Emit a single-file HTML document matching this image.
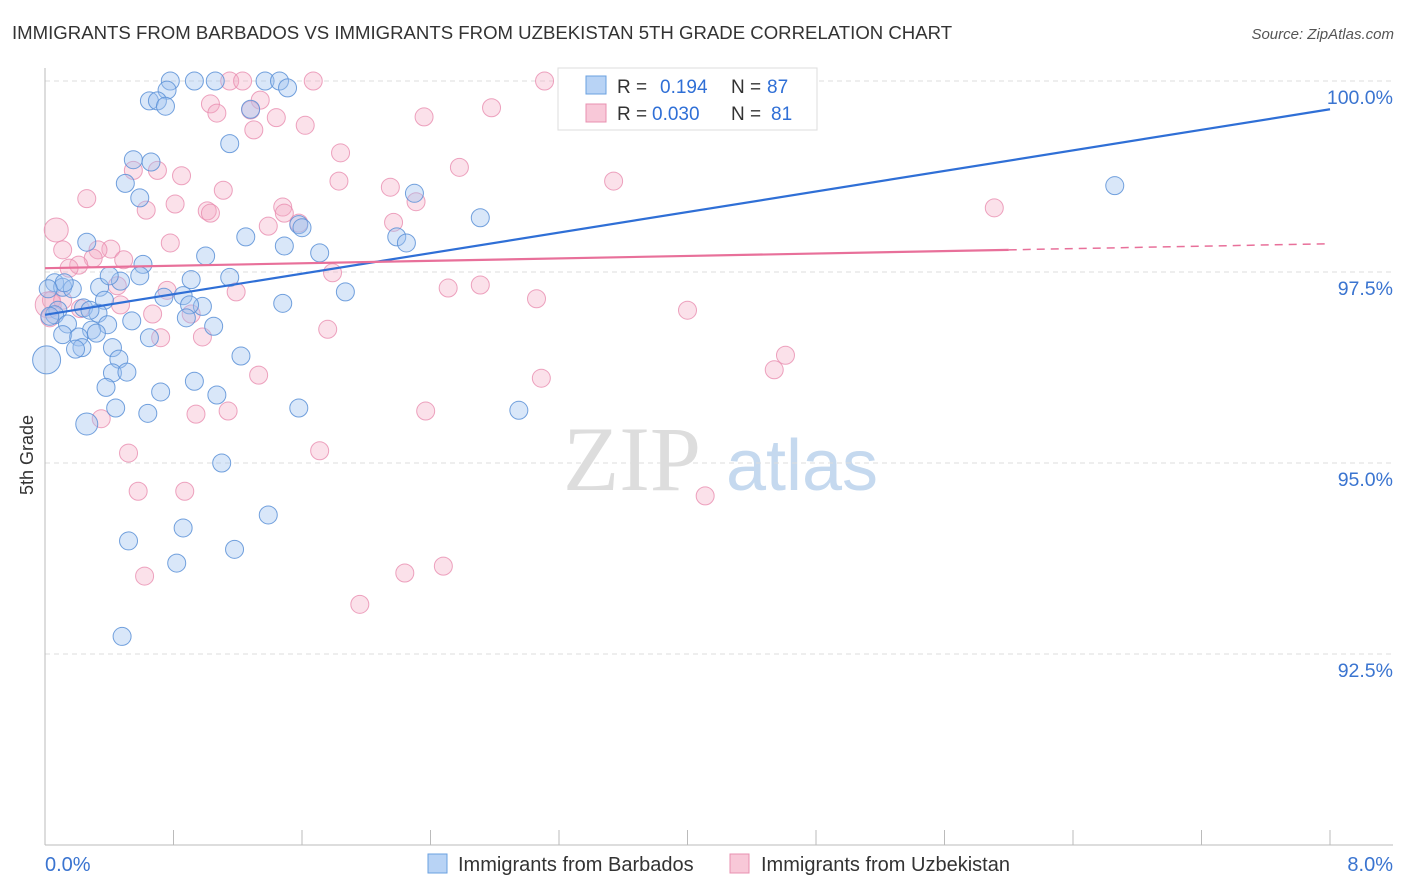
<!DOCTYPE html>
<html><head><meta charset="utf-8">
<style>
body{margin:0;background:#fff;font-family:"Liberation Sans",sans-serif;}
svg{display:block}
</style></head>
<body>
<svg id="chart" width="1406" height="892" xmlns="http://www.w3.org/2000/svg">
<text x="12" y="39" font-size="18.6" fill="#333">IMMIGRANTS FROM BARBADOS VS IMMIGRANTS FROM UZBEKISTAN 5TH GRADE CORRELATION CHART</text>
<text x="1394" y="39" font-size="15" fill="#555" font-style="italic" text-anchor="end">Source: ZipAtlas.com</text>
<text x="33" y="455" font-size="18" fill="#333" text-anchor="middle" transform="rotate(-90 33 455)">5th Grade</text>
<g>
<text x="632" y="490" font-size="92" fill="#ddd" font-family="Liberation Serif,serif" text-anchor="middle">ZIP</text>
<text x="802" y="490" font-size="72" fill="#c5d9ef" text-anchor="middle">atlas</text>
</g>
<g id="grid"></g>
<g id="axes"></g>
<g id="pinkPts"></g>
<g id="bluePts"></g>
<g id="trends"></g>
<g>
<rect x="558" y="68" width="259" height="62" fill="#fff" stroke="#ddd"/>
<rect x="586" y="76" width="20" height="18" fill="#b8d3f5" stroke="#6aa0e0"/>
<text x="617" y="93" font-size="19" fill="#333">R =</text><text x="660" y="93" font-size="19" fill="#2f6fd6">0.194</text>
<text x="731" y="93" font-size="19" fill="#333">N =</text><text x="767" y="93" font-size="19" fill="#2f6fd6">87</text>
<rect x="586" y="104" width="20" height="18" fill="#f8c8d8" stroke="#e890b0"/>
<text x="617" y="120" font-size="19" fill="#333">R =</text><text x="652" y="120" font-size="19" fill="#2f6fd6">0.030</text>
<text x="731" y="120" font-size="19" fill="#333">N =</text><text x="771" y="120" font-size="19" fill="#2f6fd6">81</text>
</g>
<g>
<rect x="428" y="854" width="19" height="19" fill="#b8d3f5" stroke="#6aa0e0"/>
<text x="458" y="871" font-size="20" fill="#333">Immigrants from Barbados</text>
<rect x="730" y="854" width="19" height="19" fill="#f8c8d8" stroke="#e890b0"/>
<text x="761" y="871" font-size="20" fill="#333">Immigrants from Uzbekistan</text>
</g>
</svg>
<script>
const yTicks=[100,97.5,95,92.5];
const yTickLabels=["100.0%","97.5%","95.0%","92.5%"];
const xTicks=[0,0.8,1.6,2.4,3.2,4.0,4.8,5.6,6.4,7.2,8.0];
const xEndLabels=["0.0%","8.0%"];
const blueX=[0.78,0.93,1.06,1.37,1.46,1.51,0.76,0.65,0.70,0.75,1.28,1.15,0.55,0.66,0.50,0.59,2.30,2.71,1.58,1.60,1.25,2.19,2.25,1.49,1.71,1.00,0.26,0.61,0.59,0.47,0.91,1.15,0.06,0.11,0.17,0.34,1.87,0.74,0.86,0.37,1.48,0.98,0.90,0.08,0.24,0.33,0.06,0.54,0.88,0.14,0.39,1.05,0.29,0.32,0.11,0.21,0.23,0.19,0.42,0.46,1.22,0.01,0.42,0.51,0.93,0.38,0.72,1.07,0.44,0.64,1.58,2.95,0.26,1.10,1.39,0.86,0.52,1.18,0.82,0.48,6.66,0.03,0.12,0.28,0.40,0.02,0.65];
const blueY=[100.0,100.0,100.0,100.0,100.0,99.91,99.88,99.74,99.74,99.67,99.63,99.18,98.97,98.94,98.66,98.47,98.53,98.21,98.12,98.08,97.96,97.96,97.88,97.84,97.75,97.71,97.89,97.60,97.45,97.38,97.40,97.43,97.36,97.30,97.28,97.30,97.24,97.17,97.19,97.13,97.09,97.05,97.07,97.00,97.03,96.96,96.94,96.86,96.90,96.82,96.81,96.79,96.74,96.70,96.68,96.65,96.51,96.49,96.51,96.36,96.40,96.35,96.18,96.19,96.07,95.99,95.93,95.89,95.72,95.65,95.72,95.69,95.51,95.00,94.32,94.15,93.98,93.87,93.69,92.73,98.63,96.92,97.36,97.00,97.45,97.28,96.64];
const blueR=[9,9,9,9,9,9,9,9,9,9,9,9,9,9,9,9,9,9,9,9,9,9,9,9,9,9,9,9,9,9,9,9,9,9,9,9,9,9,9,9,9,9,9,9,9,9,9,9,9,9,9,9,9,9,9,9,9,9,9,9,9,14,9,9,9,9,9,9,9,9,9,9,11,9,9,9,9,9,9,9,9,9,9,9,9,9,9];
const pinkX=[3.27,4.05,3.11,1.67,1.15,1.23,1.34,1.03,1.07,1.28,1.44,1.62,2.36,2.78,1.30,1.84,2.58,0.55,0.70,0.85,1.83,2.15,3.54,1.11,0.26,0.81,0.63,1.01,1.03,1.48,1.49,2.31,2.17,1.39,1.58,5.91,0.07,0.78,0.41,0.33,0.11,0.30,0.49,0.21,0.15,1.79,2.51,2.71,3.06,1.19,0.76,0.45,0.04,0.47,0.22,0.67,0.91,4.00,1.76,0.72,0.98,4.61,4.54,1.33,3.09,0.02,0.03,2.37,0.35,1.14,0.94,0.52,1.71,0.58,0.87,4.11,0.62,2.24,2.48,1.96,0.11];
const pinkY=[100.0,100.0,100.0,100.0,100.0,100.0,99.75,99.70,99.58,99.62,99.52,99.42,99.53,99.65,99.36,99.06,98.87,98.83,98.83,98.76,98.69,98.61,98.69,98.57,98.46,98.39,98.31,98.30,98.27,98.35,98.27,98.42,98.15,98.10,98.14,98.34,98.05,97.88,97.80,97.79,97.79,97.68,97.66,97.59,97.55,97.49,97.29,97.33,97.15,97.24,97.26,97.32,97.13,97.07,97.02,96.95,96.95,97.00,96.75,96.64,96.65,96.41,96.22,96.15,96.11,97.07,96.90,95.68,95.58,95.68,95.64,95.13,95.16,94.63,94.63,94.57,93.52,93.56,93.65,93.15,97.13];
const pinkR=[9,9,9,9,9,9,9,9,9,9,9,9,9,9,9,9,9,9,9,9,9,9,9,9,9,9,9,9,9,9,9,9,9,9,9,9,12,9,9,9,9,9,9,9,9,9,9,9,9,9,9,9,9,9,9,9,9,9,9,9,9,9,9,9,9,13,9,9,9,9,9,9,9,9,9,9,9,9,9,9,9];
const blueTrendX=[0,8];
const blueTrendY=[96.94,99.63];
const pinkTrendX=[0,6.0,8];
const pinkTrendY=[97.55,97.79,97.87];

const NS="http://www.w3.org/2000/svg";
function xs(v){return 45+v/8*1285;}
function ys(v){return 81+(100-v)/2.5*191;}
function mk(tag,attrs,parent){const e=document.createElementNS(NS,tag);for(const k in attrs)e.setAttribute(k,attrs[k]);parent.appendChild(e);return e;}
const grid=document.getElementById('grid'),axes=document.getElementById('axes');
yTicks.forEach((t,i)=>{
  const l=mk('line',{x1:45,x2:1393,y1:ys(t),y2:ys(t),stroke:'#ddd','stroke-dasharray':'5,4'},grid);
  
  
  const tx=mk('text',{x:1393,y:ys(t)+23,'font-size':19.5,fill:'#3a74d0','text-anchor':'end'},axes);
  tx.textContent=yTickLabels[i];
  
  
});
const ax=mk('line',{x1:45,x2:45,y1:68,y2:845,stroke:'#bbb'},axes);


const bx=mk('line',{x1:45,x2:1393,y1:845,y2:845,stroke:'#bbb'},axes);


xTicks.forEach(t=>{
  const l=mk('line',{x1:xs(t),x2:xs(t),y1:830,y2:845,stroke:'#bbb'},axes);
  
  
});
const xl0=mk('text',{x:45,y:871,'font-size':20,fill:'#3a74d0'},axes);xl0.textContent=xEndLabels[0];


const xl1=mk('text',{x:1393,y:871,'font-size':20,fill:'#3a74d0','text-anchor':'end'},axes);xl1.textContent=xEndLabels[1];


const bp=document.getElementById('bluePts'),pp=document.getElementById('pinkPts');
pinkX.forEach((v,i)=>{
  const c=mk('circle',{cx:xs(v),cy:ys(pinkY[i]),r:pinkR[i]||9,fill:'rgba(244,170,196,0.35)',stroke:'rgba(232,140,175,0.8)','stroke-width':1},pp);
  
  
});
blueX.forEach((v,i)=>{
  const c=mk('circle',{cx:xs(v),cy:ys(blueY[i]),r:blueR[i]||9,fill:'rgba(160,196,240,0.4)',stroke:'rgba(90,145,215,0.85)','stroke-width':1},bp);
  
  
});
const tr=document.getElementById('trends');
const bl=mk('line',{x1:xs(blueTrendX[0]),y1:ys(blueTrendY[0]),x2:xs(blueTrendX[1]),y2:ys(blueTrendY[1]),stroke:'#2f6fd6','stroke-width':2.2},tr);


const pl=mk('line',{x1:xs(pinkTrendX[0]),y1:ys(pinkTrendY[0]),x2:xs(pinkTrendX[1]),y2:ys(pinkTrendY[1]),stroke:'#e8709a','stroke-width':2.2},tr);


const pd=mk('line',{x1:xs(pinkTrendX[1]),y1:ys(pinkTrendY[1]),x2:xs(pinkTrendX[2]),y2:ys(pinkTrendY[2]),stroke:'#e8709a','stroke-width':1.5,'stroke-dasharray':'8,6'},tr);


</script>
</body></html>
